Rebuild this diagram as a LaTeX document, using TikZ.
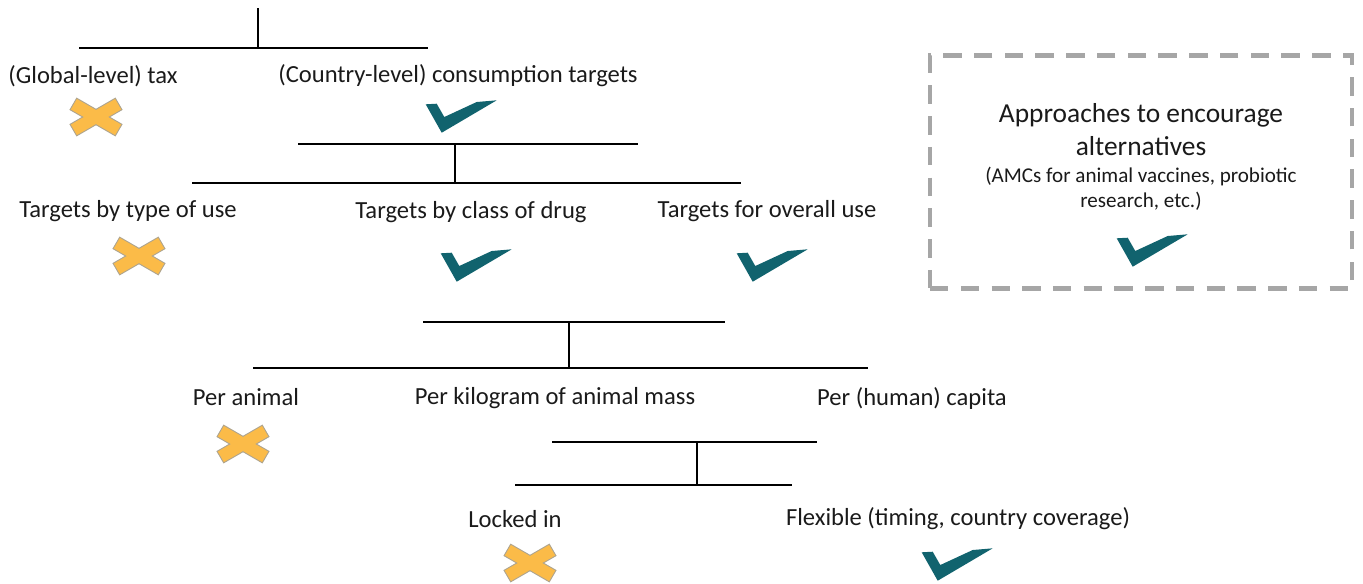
\documentclass[tikz,border=0pt]{standalone}
\usepackage{fontspec}
\setmainfont{Carlito}
\definecolor{txt}{HTML}{1A1A1A}
\definecolor{teal}{HTML}{11636E}
\definecolor{crossfill}{HTML}{FBBB48}
\definecolor{crossedge}{HTML}{AFA58F}
\definecolor{dashgray}{HTML}{A6A6A6}
\tikzset{
  lbl/.style={font=\fontsize{14}{16}\selectfont, text=txt, inner sep=0pt, anchor=center},
  boxtitle/.style={font=\fontsize{15.6}{18}\selectfont, text=txt, inner sep=0pt, anchor=center},
  boxsub/.style={font=\fontsize{12}{14}\selectfont, text=txt, inner sep=0pt, anchor=center},
  tree/.style={line width=1.6pt, draw=black},
  xmark/.pic={
    \draw[fill=crossfill, draw=crossedge, line width=0.7pt, rotate=30] (-26,-6.5) rectangle (26,6.5);
    \draw[fill=crossfill, draw=crossedge, line width=0.7pt, rotate=-30] (-26,-6.5) rectangle (26,6.5);
    \fill[crossfill, rotate=30] (-25.5,-6) rectangle (25.5,6);
    \fill[crossfill, rotate=-30] (-25.5,-6) rectangle (25.5,6);
  },
  vmark/.pic={
    \fill[teal] (-35.3,-11.7) -- (-24.3,-12.3) -- (-16.7,1) -- (15.7,-14) -- (35.7,-15.7) -- (-19.3,16.7) -- cycle;
  },
  dbox/.style={draw=dashgray, line width=2.8pt, dash pattern=on 10.5pt off 7pt}
}
\begin{document}
\begin{tikzpicture}[x=0.02cm, y=-0.02cm]
\useasboundingbox (0,0) rectangle (1363,583);
\clip (0,0) rectangle (1363,583);

% ---------- level 1
\coordinate (t1) at (258,8);
\coordinate (j1) at (258,48);
\coordinate (h1a) at (79,48);
\coordinate (h1b) at (428,48);
\draw[tree] (t1) -- (j1);
\draw[tree] (h1a) -- (h1b);
\node[lbl] (global) at (93,76) {(Global-level) tax};
\node[lbl] (country) at (458,76) {(Country-level) consumption targets};
\pic at (96,117) {xmark};
\pic at (461,116) {vmark};

% ---------- level 2
\coordinate (u2a) at (298,144);
\coordinate (u2b) at (638,144);
\coordinate (t2) at (455,144);
\coordinate (j2) at (455,183);
\coordinate (h2a) at (192,183);
\coordinate (h2b) at (741,183);
\draw[tree] (u2a) -- (u2b);
\draw[tree] (t2) -- (j2);
\draw[tree] (h2a) -- (h2b);
\node[lbl] (type) at (128,211) {Targets by type of use};
\node[lbl] (class) at (471,212) {Targets by class of drug};
\node[lbl] (overall) at (767,211) {Targets for overall use};
\pic at (139,256) {xmark};
\pic at (476,265) {vmark};
\pic at (772,265) {vmark};

% ---------- level 3
\coordinate (u3a) at (423,322);
\coordinate (u3b) at (725,322);
\coordinate (t3) at (569,322);
\coordinate (j3) at (569,368);
\coordinate (h3a) at (253,368);
\coordinate (h3b) at (868,368);
\draw[tree] (u3a) -- (u3b);
\draw[tree] (t3) -- (j3);
\draw[tree] (h3a) -- (h3b);
\node[lbl] (animal) at (246,397) {Per animal};
\node[lbl] (kilo) at (555,398) {Per kilogram of animal mass};
\node[lbl] (capita) at (912,398) {Per (human) capita};
\pic at (243,444) {xmark};

% ---------- level 4
\coordinate (u4a) at (552,442);
\coordinate (u4b) at (817,442);
\coordinate (t4) at (697,442);
\coordinate (j4) at (697,485);
\coordinate (h4a) at (515,485);
\coordinate (h4b) at (792,485);
\draw[tree] (u4a) -- (u4b);
\draw[tree] (t4) -- (j4);
\draw[tree] (h4a) -- (h4b);
\node[lbl] (locked) at (515,519) {Locked in};
\node[lbl] (flex) at (958,519) {Flexible (timing, country coverage)};
\pic at (530,563) {xmark};
\pic at (957,564) {vmark};

% ---------- dashed box
\node[dbox, minimum width=422*0.02cm, minimum height=233*0.02cm, inner sep=0pt] (altbox) at (1141,172) {};
\node[boxtitle] (alt1) at (1141,115) {Approaches to encourage};
\node[boxtitle] (alt2) at (1141,146) {alternatives};
\node[boxsub] (alt3) at (1141,176) {(AMCs for animal vaccines, probiotic};
\node[boxsub] (alt4) at (1141,201) {research, etc.)};
\pic at (1152,250) {vmark};
\end{tikzpicture}
\end{document}
